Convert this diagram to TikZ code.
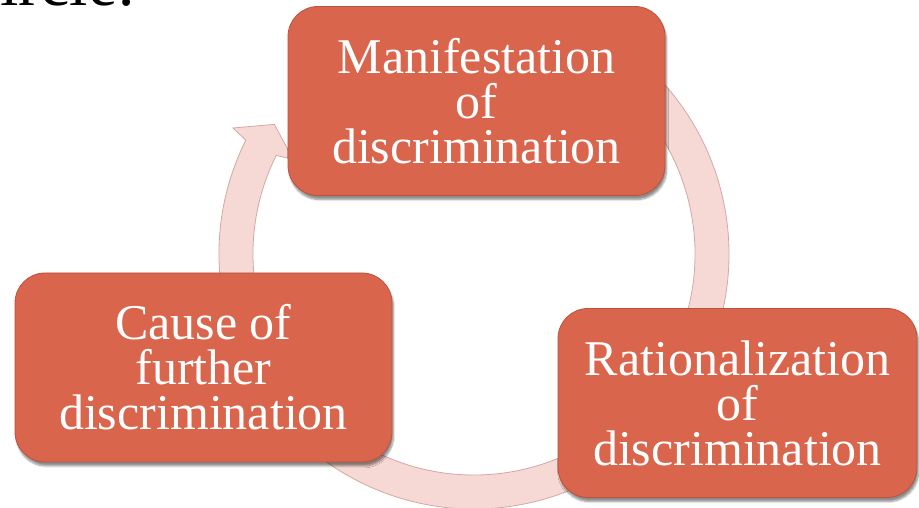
\documentclass[tikz,border=0pt]{standalone}
\usepackage{fontspec}
\setmainfont{Liberation Serif}
\usetikzlibrary{calc,shadows.blur}
\definecolor{boxfill}{RGB}{217,101,76}
\definecolor{boxline}{RGB}{188,82,62}
\definecolor{ringfill}{RGB}{246,217,213}
\definecolor{ringline}{RGB}{212,168,162}

\begin{document}
\begin{tikzpicture}[x=1pt, y=1pt,
    stage/.style={rectangle, rounded corners=30pt, fill=boxfill, draw=boxline, line width=0.8pt,
        text=white, align=center, inner sep=0pt, font=\fontsize{50}{45}\selectfont,
        blur shadow={shadow xshift=1.5pt, shadow yshift=-4pt, shadow blur steps=8, shadow opacity=45}},
    ring/.style={fill=ringfill, draw=ringline, line width=0.8pt}
]
    \useasboundingbox (0,0) rectangle (919,508);
    \clip (0,0) rectangle (919,508);
    % title line running off the top edge
    \node[anchor=base west, inner sep=0pt, font=\fontsize{66}{66}\selectfont] (title) at (0,502) {ircle:};
    % circular arrow behind the stages
    \def\rin{221}
    \def\rout{255}
    \begin{scope}[shift={(474,254)}]
        \draw[ring] (153.5:\rout) arc[start angle=153.5, end angle=420, radius=\rout]
            -- (420:\rin) arc[start angle=420, end angle=153.5, radius=\rin]
            -- (152.4:204) -- (147:238) -- (152.4:272) -- cycle;
    \end{scope}
    % stages of the cycle
    \foreach \name/\x/\y/\w/\txt in {
        manif/476.5/407/377/{Manifestation\\of\\discrimination},
        ration/737.5/105/359/{Rationalization\\of\\discrimination},
        cause/203.5/140.5/377/{Cause of\\further\\discrimination}} {
        \node[stage, minimum width=\w, minimum height=189] (\name) at (\x,\y) {\txt};
    }
\end{tikzpicture}
\end{document}
